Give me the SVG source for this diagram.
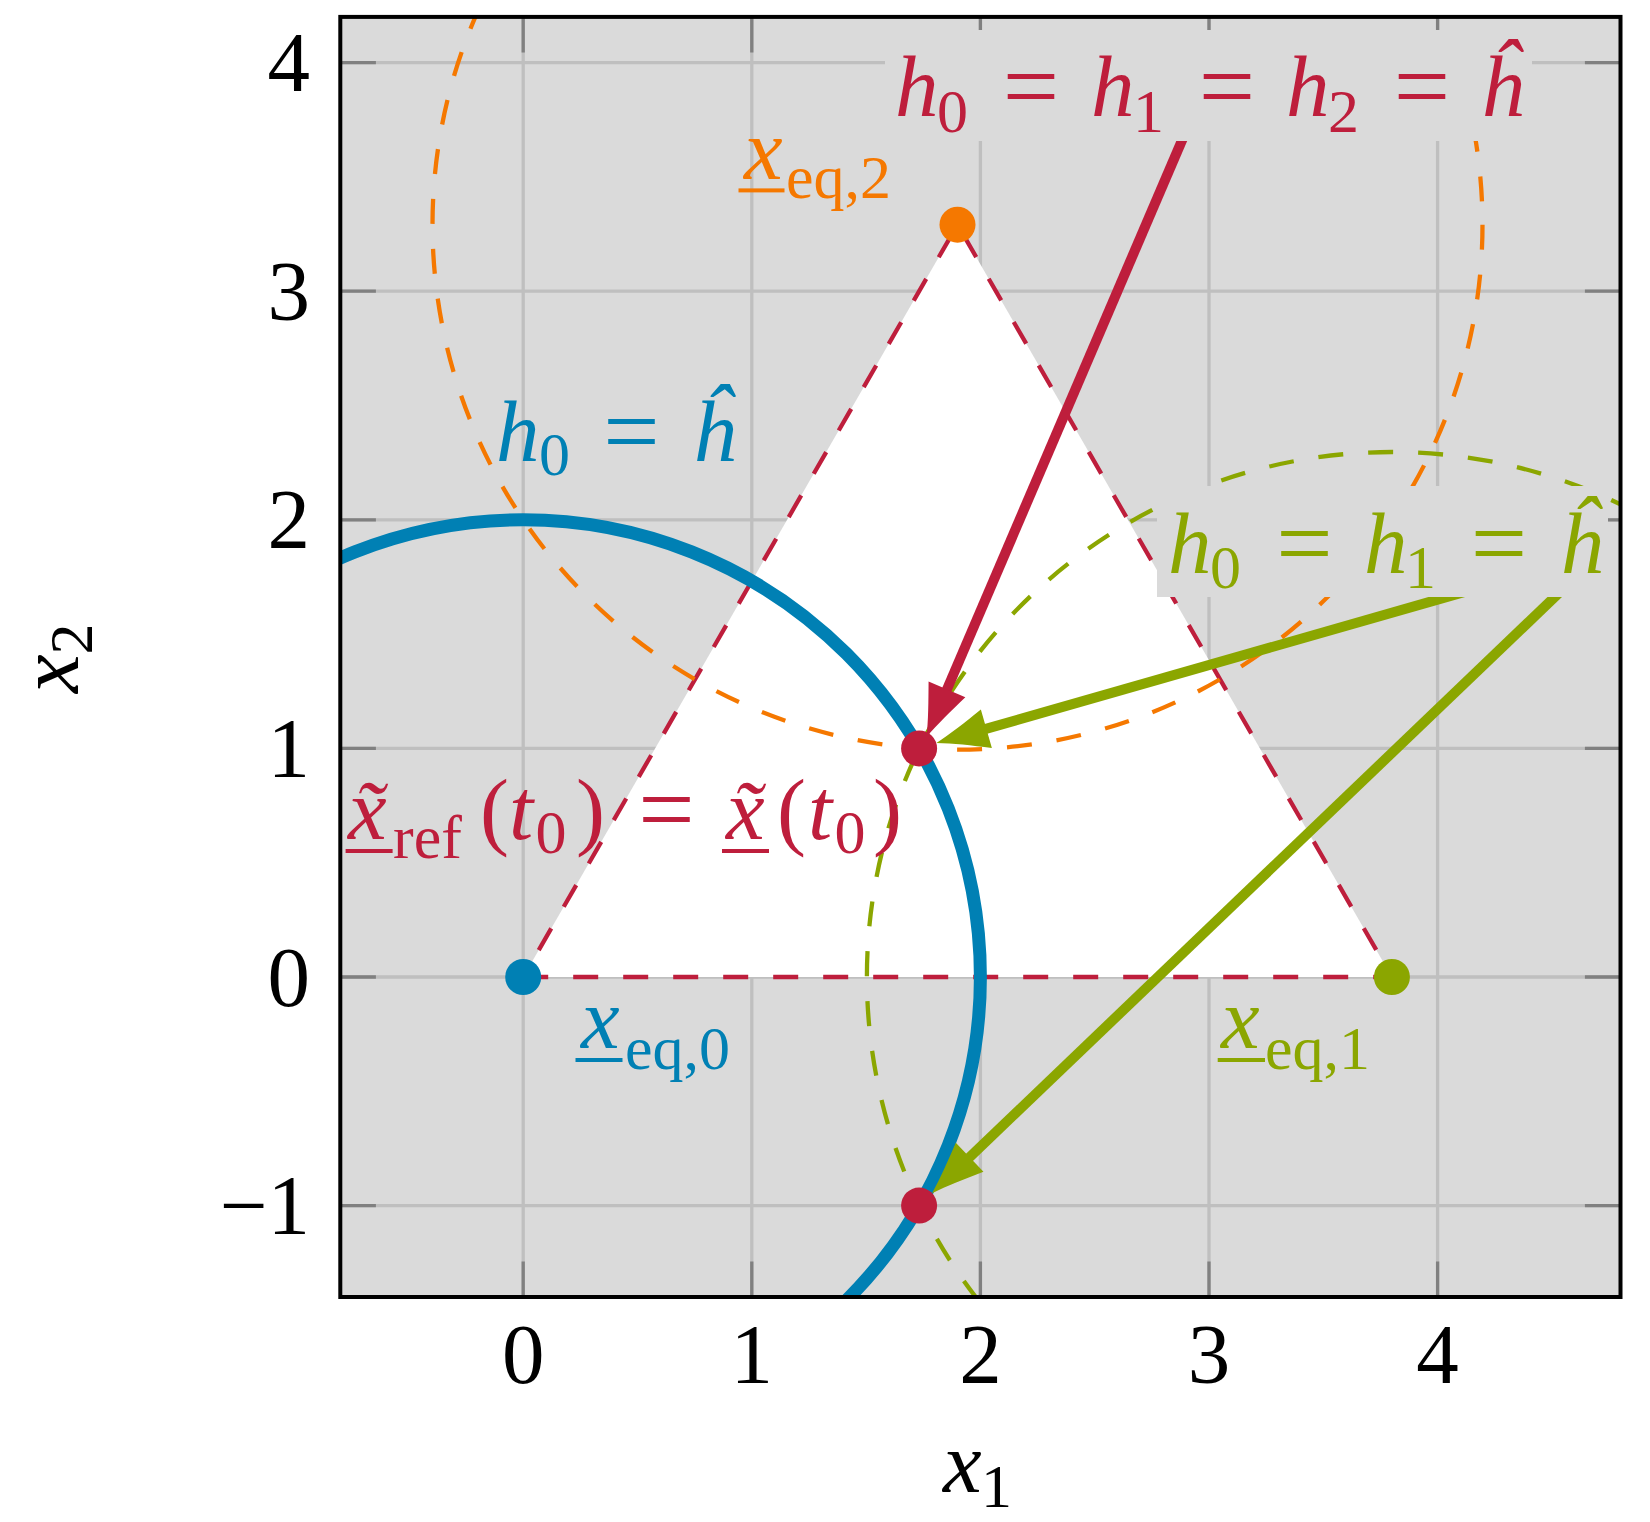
<svg xmlns="http://www.w3.org/2000/svg" width="1650" height="1522" viewBox="0 0 1650 1522">
<style>
.t{font-family:"Liberation Serif","Times New Roman",serif;}
.i{font-style:italic;}
.m{font-size:87px;}
.s{font-size:62px;}
.eq{font-size:100px;}
.k{font-size:85px;fill:#000;}
.red{fill:#BE1E3C;}
.blue{fill:#0080B4;}
.orange{fill:#F57800;}
.green{fill:#8BA600;}
.dash{fill:none;stroke-width:4.3;stroke-dasharray:25 25;}
.arrow{fill:none;stroke-width:10;}
</style>
<defs>
<clipPath id="plot"><rect x="340.3" y="16.9" width="1280.2" height="1280.1"/></clipPath>
<marker id="headRed" markerUnits="userSpaceOnUse" orient="auto" refX="0" refY="0" markerWidth="1" markerHeight="1" style="overflow:visible">
<path d="M46 0C30 4.8 13 12 -6 20L-6 -20C13 -12 30 -4.8 46 0Z" fill="#BE1E3C"/>
</marker>
<marker id="headGreen" markerUnits="userSpaceOnUse" orient="auto" refX="0" refY="0" markerWidth="1" markerHeight="1" style="overflow:visible">
<path d="M46 0C30 4.8 13 12 -6 20L-6 -20C13 -12 30 -4.8 46 0Z" fill="#8BA600"/>
</marker>
</defs>
<rect width="1650" height="1522" fill="#fff"/>
<g id="axes">
<rect x="340.3" y="16.9" width="1280.2" height="1280.1" fill="#DADADA"/>
<path d="M523.2 16.9V1297M751.8 16.9V1297M980.4 16.9V1297M1209 16.9V1297M1437.6 16.9V1297M340.3 62.6H1620.5M340.3 291.2H1620.5M340.3 519.8H1620.5M340.3 748.4H1620.5M340.3 977H1620.5M340.3 1205.6H1620.5" stroke="#BFBFBF" stroke-width="3.3" fill="none"/>
<path d="M523.2 1297V1261.4M751.8 1297V1261.4M980.4 1297V1261.4M1209 1297V1261.4M1437.6 1297V1261.4M523.2 16.9V52.5M751.8 16.9V52.5M980.4 16.9V52.5M1209 16.9V52.5M1437.6 16.9V52.5M340.3 62.6H375.9M340.3 291.2H375.9M340.3 519.8H375.9M340.3 748.4H375.9M340.3 977H375.9M340.3 1205.6H375.9M1620.5 62.6H1584.9M1620.5 291.2H1584.9M1620.5 519.8H1584.9M1620.5 748.4H1584.9M1620.5 977H1584.9M1620.5 1205.6H1584.9" stroke="#808080" stroke-width="3.3" fill="none"/>
</g>
<g id="region" clip-path="url(#plot)">
<polygon points="523.2,977 1391.9,977 957.5,224.7" fill="#fff"/>
<polygon class="dash" points="523.2,977 1391.9,977 957.5,224.7" stroke="#BE1E3C"/>
<circle id="level-h0" cx="523.2" cy="977" r="457.2" fill="none" stroke="#0080B4" stroke-width="13"/>
<circle id="level-h2" class="dash" cx="957.5" cy="224.7" r="525" stroke="#F57800"/>
<circle id="level-h1" class="dash" cx="1391.9" cy="977" r="525" stroke="#8BA600"/>
</g>
<g id="connectors">
<line class="arrow" x1="1186" y1="131" x2="944.6" y2="694.9" stroke="#BE1E3C" marker-end="url(#headRed)"/>
<line class="arrow" x1="1466.4" y1="591.4" x2="980.6" y2="730.4" stroke="#8BA600" marker-end="url(#headGreen)"/>
<line class="arrow" x1="1562.7" y1="589.4" x2="965.3" y2="1161.4" stroke="#8BA600" marker-end="url(#headGreen)"/>
</g>
<g id="points">
<circle id="xeq0" cx="523.2" cy="977" r="18" fill="#0080B4"/>
<circle id="xeq1" cx="1391.9" cy="977" r="18" fill="#8BA600"/>
<circle id="xeq2" cx="957.5" cy="224.7" r="18" fill="#F57800"/>
<circle id="xref-upper" cx="919.1" cy="748.4" r="18" fill="#BE1E3C"/>
<circle id="xref-lower" cx="919.1" cy="1205.6" r="18" fill="#BE1E3C"/>
</g>
<rect x="340.3" y="16.9" width="1280.2" height="1280.1" fill="none" stroke="#000" stroke-width="4"/>
<g id="label-all" class="t red">
<rect x="885" y="30" width="647" height="111" fill="#DADADA"/>
<text class="m"><tspan class="i" x="895" y="116">h</tspan><tspan class="s" x="937" y="132">0</tspan><tspan class="eq" x="1002.8" y="120">=</tspan><tspan class="i" x="1091" y="116">h</tspan><tspan class="s" x="1133" y="132">1</tspan><tspan class="eq" x="1198.8" y="120">=</tspan><tspan class="i" x="1286" y="116">h</tspan><tspan class="s" x="1328" y="132">2</tspan><tspan class="eq" x="1393.8" y="120">=</tspan><tspan class="i" x="1480" y="116">ĥ</tspan></text>
</g>
<g id="label-h01" class="t green">
<rect x="1157" y="486" width="451" height="111" fill="#DADADA"/>
<text class="m"><tspan class="i" x="1168" y="573">h</tspan><tspan class="s" x="1210" y="588">0</tspan><tspan class="eq" x="1276.3" y="577">=</tspan><tspan class="i" x="1364" y="573">h</tspan><tspan class="s" x="1405" y="588">1</tspan><tspan class="eq" x="1470.8" y="577">=</tspan><tspan class="i" x="1559" y="573">ĥ</tspan></text>
</g>
<g id="label-h0" class="t blue">
<text class="m"><tspan class="i" x="496" y="461">h</tspan><tspan class="s" x="539" y="475">0</tspan><tspan class="eq" x="603.3" y="465">=</tspan><tspan class="i" x="692" y="461">ĥ</tspan></text>
</g>
<g id="label-xeq2" class="t orange">
<text class="m"><tspan class="i" x="744" y="178.6">x</tspan><tspan class="s" x="786" y="197.5">eq,2</tspan></text>
<rect x="738.5" y="188.4" width="46" height="4"/>
</g>
<g id="label-xeq0" class="t blue">
<text class="m"><tspan class="i" x="581" y="1047.5">x</tspan><tspan class="s" x="625" y="1069">eq,0</tspan></text>
<rect x="575.5" y="1058" width="47" height="4"/>
</g>
<g id="label-xeq1" class="t green">
<text class="m"><tspan class="i" x="1221" y="1047.5">x</tspan><tspan class="s" x="1265" y="1069">eq,1</tspan></text>
<rect x="1217.7" y="1058" width="47.3" height="4"/>
</g>
<g id="label-xref" class="t red">
<text class="m"><tspan class="i" x="348" y="838.6">x̃</tspan><tspan class="s" x="393" y="858">ref</tspan><tspan x="480" y="838.6">(</tspan><tspan class="i" x="509" y="838.6">t</tspan><tspan class="s" x="535.5" y="853">0</tspan><tspan x="576" y="838.6">)</tspan><tspan class="eq" x="638.3" y="842.6">=</tspan><tspan class="i" x="726" y="838.6">x̃</tspan><tspan x="777" y="838.6">(</tspan><tspan class="i" x="808" y="838.6">t</tspan><tspan class="s" x="834.5" y="853">0</tspan><tspan x="873" y="838.6">)</tspan></text>
<rect x="345.6" y="849" width="47" height="4"/>
<rect x="722" y="849" width="47" height="4"/>
</g>
<g id="ticklabels" class="t k">
<text x="523.2" y="1383" text-anchor="middle">0</text>
<text x="751.8" y="1383" text-anchor="middle">1</text>
<text x="980.4" y="1383" text-anchor="middle">2</text>
<text x="1209" y="1383" text-anchor="middle">3</text>
<text x="1437.6" y="1383" text-anchor="middle">4</text>
<text x="310" y="91.1" text-anchor="end">4</text>
<text x="310" y="319.7" text-anchor="end">3</text>
<text x="310" y="548.3" text-anchor="end">2</text>
<text x="310" y="776.9" text-anchor="end">1</text>
<text x="310" y="1005.5" text-anchor="end">0</text>
<text x="310" y="1234.1" text-anchor="end">−1</text>
</g>
<g id="axis-labels" class="t" fill="#000">
<text class="m"><tspan class="i" x="943" y="1492">x</tspan><tspan class="s" x="981" y="1507">1</tspan></text>
<text class="m" transform="translate(78,693) rotate(-90)"><tspan class="i" x="0" y="0">x</tspan><tspan class="s" dy="14">2</tspan></text>
</g>
</svg>
